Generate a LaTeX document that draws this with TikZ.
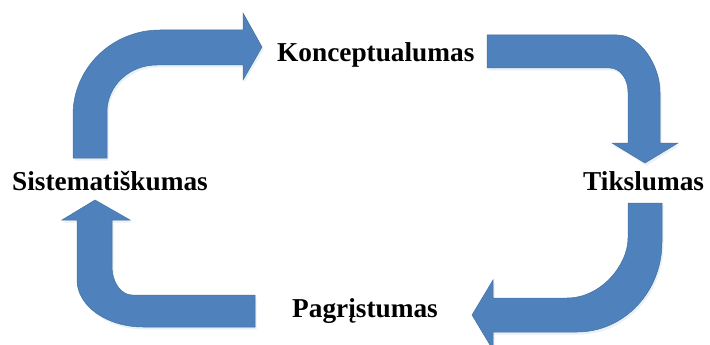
\documentclass[tikz,border=0pt]{standalone}
\usepackage{fontspec}
\setmainfont{Liberation Serif}
\definecolor{arrowblue}{HTML}{4F81BD}
\definecolor{arrowedge}{HTML}{41719C}
\begin{document}
\begin{tikzpicture}[x=1pt,y=-1pt,
  bentarrow/.style={fill=arrowblue,draw=arrowedge,line width=0.5pt,line join=miter},
  shade/.style={fill=arrowblue!35,opacity=0.35},
  label/.style={font=\bfseries\fontsize{27.3}{30}\selectfont,inner sep=0pt,anchor=base west}]
\useasboundingbox (0,0) rectangle (710,345);
\clip (0,0) rectangle (710,345);
% arrow 1: up then right
\def\arrowA{(73,158) -- (73,115) .. controls (73,68) and (112,30) .. (160,30) -- (243,30) -- (243,13) -- (262,47) -- (243,80) -- (243,65) -- (157,65) .. controls (129,65) and (107,86) .. (107,112) -- (107,158) -- cycle}
% arrow 2: right then down
\def\arrowB{(487,35) -- (617,35) .. controls (641,35) and (660,66) .. (660,92) -- (660,143) -- (678,143) -- (645,163) -- (612,143) -- (628,143) -- (628,92) .. controls (628,79) and (620,68) .. (610,68) -- (487,68) -- cycle}
% arrow 3: down then left
\def\arrowC{(628,203) -- (662,203) -- (662,242) .. controls (662,292) and (624,332) .. (577,332) -- (493,332) -- (493,350) -- (472,315) -- (493,280) -- (493,298) -- (567,298) .. controls (601,298) and (628,265) .. (628,238) -- cycle}
% arrow 4: left then up
\def\arrowD{(255,295) -- (255,327) -- (143,327) .. controls (107,327) and (77,306) .. (77,280) -- (77,220) -- (62,220) -- (95,200) -- (130,220) -- (112,220) -- (112,267) .. controls (112,282) and (121,295) .. (132,295) -- cycle}
\begin{scope}[shift={(1.5,2.5)}]
  \fill[shade] \arrowA; \fill[shade] \arrowB; \fill[shade] \arrowC; \fill[shade] \arrowD;
\end{scope}
\path[bentarrow] \arrowA;
\path[bentarrow] \arrowB;
\path[bentarrow] \arrowC;
\path[bentarrow] \arrowD;
\node[label] (konc) at (277,62) {Konceptualumas};
\node[label] (tiks) at (583,190) {Tikslumas};
\node[label] (pagr) at (292,317) {Pagrįstumas};
\node[label] (sist) at (12,190) {Sistematiškumas};
\end{tikzpicture}
\end{document}
